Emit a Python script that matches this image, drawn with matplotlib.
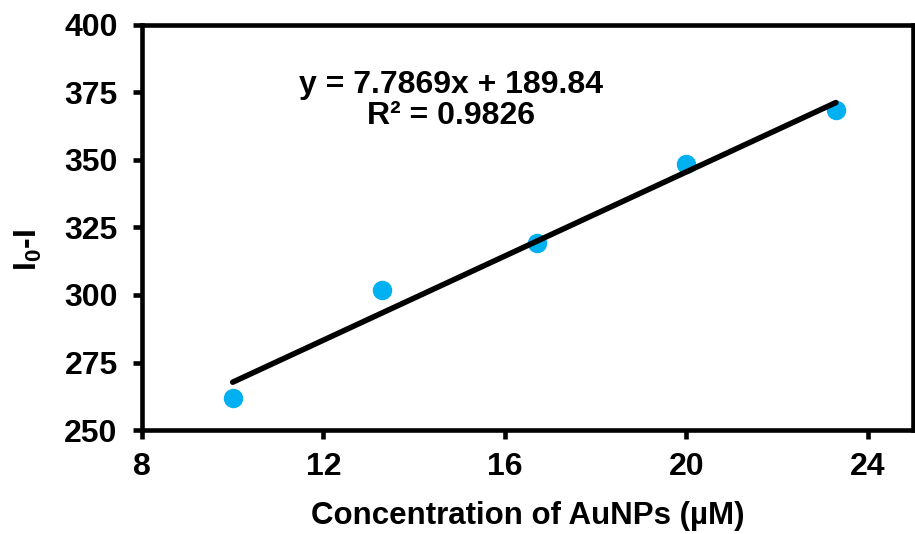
import matplotlib
matplotlib.use("Agg")
import matplotlib.pyplot as plt
import numpy as np

plt.rcParams['font.family'] = ['Liberation Sans', 'DejaVu Sans']
plt.rcParams['font.weight'] = 'bold'
plt.rcParams['mathtext.fontset'] = 'custom'
plt.rcParams['mathtext.rm'] = 'Liberation Sans:bold'
plt.rcParams['mathtext.it'] = 'Liberation Sans:bold'
plt.rcParams['mathtext.bf'] = 'Liberation Sans:bold'

# AuNP concentration (µM) and fluorescence quenching I0 - I
concentration = [10.0, 13.3, 16.7, 20.0, 23.3]
quenching = [261.7, 301.8, 319.3, 348.5, 368.5]

# Linear fit reported on the chart
slope = 7.7869
intercept = 189.84
r_squared = 0.9826

x_ticks = [8, 12, 16, 20, 24]
y_ticks = [250, 275, 300, 325, 350, 375, 400]

fig = plt.figure(figsize=(9.15, 5.34), dpi=100)
ax = fig.add_axes([142 / 915, 1 - 430 / 534, (913 - 142) / 915, (430 - 25) / 534])

ax.plot(concentration, quenching, 'o', color='#00B0F0', markersize=13, zorder=3)

fit_x = np.array([concentration[0], concentration[-1]])
ax.plot(fit_x, slope * fit_x + intercept, color='black', linewidth=4,
        solid_capstyle='round', zorder=4)

ax.set_xlim(8, 25)
ax.set_ylim(250, 400)
ax.set_xticks(x_ticks)
ax.set_yticks(y_ticks)

for side in ['left', 'bottom', 'top', 'right']:
    ax.spines[side].set_linewidth(3.3)
ax.tick_params(axis='both', direction='out', length=6.5, width=3.3,
               labelsize=23)
ax.tick_params(axis='x', pad=9)
ax.tick_params(axis='y', pad=11)
for lbl in ax.get_xticklabels() + ax.get_yticklabels():
    lbl.set_fontweight('bold')

ax.set_xlabel('Concentration of AuNPs (µM)', fontsize=22.5, fontweight='bold',
              labelpad=14)
fig.text(28 / 915, 1 - 250 / 534, r'I$_0$-I', rotation=90, fontsize=23,
         fontweight='bold', ha='center', va='center')

fig.text(451 / 915, 1 - 85 / 534, f'y = {slope}x + {intercept}',
         fontsize=23, fontweight='bold', ha='center', va='center')
fig.text(451 / 915, 1 - 116 / 534, f'R² = {r_squared}',
         fontsize=23, fontweight='bold', ha='center', va='center')

fig.savefig('out.png', dpi=100)
